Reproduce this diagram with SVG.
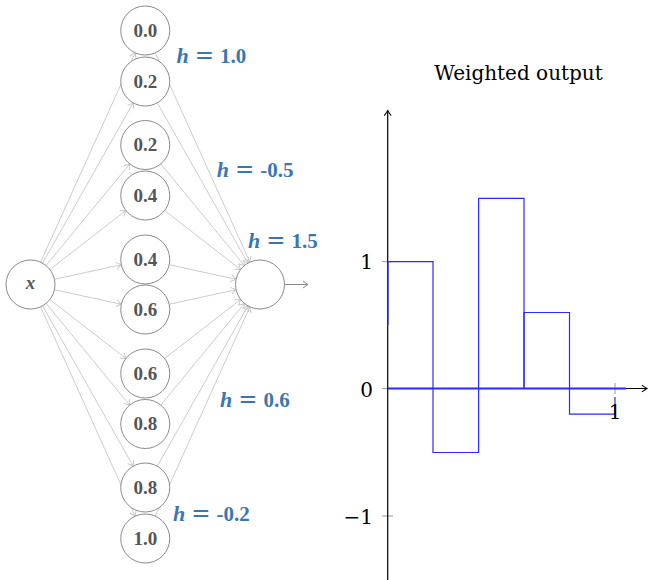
<svg xmlns="http://www.w3.org/2000/svg" width="653" height="580" viewBox="0 0 653 580">
<defs>
<marker id="ah" markerUnits="userSpaceOnUse" markerWidth="12" markerHeight="12" refX="0" refY="0" viewBox="-6 -6 12 12" orient="auto" overflow="visible">
<path d="M-5,-3.5 Q-1.2,-0.6 0,0 Q-1.2,0.6 -5,3.5" fill="none" stroke="#c8c8c8" stroke-width="1"/>
</marker>
<marker id="ahd" markerUnits="userSpaceOnUse" markerWidth="12" markerHeight="12" refX="0" refY="0" viewBox="-6 -6 12 12" orient="auto" overflow="visible">
<path d="M-5,-3.5 Q-1.2,-0.6 0,0 Q-1.2,0.6 -5,3.5" fill="none" stroke="#888" stroke-width="1"/>
</marker>
<marker id="axh" markerUnits="userSpaceOnUse" markerWidth="12" markerHeight="12" refX="0" refY="0" viewBox="-7 -6 14 12" orient="auto" overflow="visible">
<path d="M-6,-4 Q-1.5,-0.8 0,0 Q-1.5,0.8 -6,4" fill="none" stroke="#000" stroke-width="1.2"/>
</marker>
</defs>
<style>
.e{stroke:#cccccc;stroke-width:1;fill:none;marker-end:url(#ah)}
.n circle{fill:#fff;stroke:#8a8a8a;stroke-width:1}
.n text{font-family:"Liberation Serif",serif;font-weight:bold;font-size:19px;fill:#555;text-anchor:middle}
.h{fill:#3a77b2}
.hv{font-family:"Liberation Serif",serif;font-weight:bold;font-style:italic;font-size:22px}
.eq{font-family:"DejaVu Sans",sans-serif;font-size:23px}
.num{font-family:"Liberation Serif",serif;font-weight:bold;font-size:21px}
.tk{font-family:"DejaVu Serif",serif;font-size:20px;fill:#000}
.bar{fill:none;stroke:#2a2aff;stroke-width:1.2}
</style>
<g id="connectors">
<line class="e" x1="40.59" y1="262.17" x2="135.16" y2="52.83"/>
<line class="e" x1="42.56" y1="263.17" x2="133.19" y2="102.83"/>
<line class="e" x1="46.06" y1="265.58" x2="129.69" y2="163.92"/>
<line class="e" x1="49.86" y1="269.48" x2="125.89" y2="210.52"/>
<line class="e" x1="54.44" y1="279.28" x2="121.31" y2="264.72"/>
<line class="e" x1="54.44" y1="289.72" x2="121.31" y2="304.28"/>
<line class="e" x1="49.86" y1="299.52" x2="125.89" y2="358.48"/>
<line class="e" x1="46.06" y1="303.42" x2="129.69" y2="405.08"/>
<line class="e" x1="42.56" y1="305.83" x2="133.19" y2="466.17"/>
<line class="e" x1="40.59" y1="306.83" x2="135.16" y2="516.17"/>
<line class="e" x1="155.34" y1="52.83" x2="249.91" y2="262.17"/>
<line class="e" x1="157.31" y1="102.83" x2="247.94" y2="263.17"/>
<line class="e" x1="160.81" y1="163.92" x2="244.44" y2="265.58"/>
<line class="e" x1="164.61" y1="210.52" x2="240.64" y2="269.48"/>
<line class="e" x1="169.19" y1="264.72" x2="236.06" y2="279.28"/>
<line class="e" x1="169.19" y1="304.28" x2="236.06" y2="289.72"/>
<line class="e" x1="164.61" y1="358.48" x2="240.64" y2="299.52"/>
<line class="e" x1="160.81" y1="405.08" x2="244.44" y2="303.42"/>
<line class="e" x1="157.31" y1="466.17" x2="247.94" y2="305.83"/>
<line class="e" x1="155.34" y1="516.17" x2="249.91" y2="306.83"/>
<line x1="284.5" y1="284.5" x2="308" y2="284.5" stroke="#888" stroke-width="1" marker-end="url(#ahd)"/>
</g>
<g id="node-x" class="n"><circle cx="30.5" cy="284.5" r="24.5"/><text x="30.5" y="289" font-style="italic" font-size="14px">x</text></g>
<g id="node-h1" class="n"><circle cx="145.25" cy="30.5" r="24.5"/><text x="145.25" y="36.8">0.0</text></g>
<g id="node-h2" class="n"><circle cx="145.25" cy="81.5" r="24.5"/><text x="145.25" y="87.8">0.2</text></g>
<g id="node-h3" class="n"><circle cx="145.25" cy="145" r="24.5"/><text x="145.25" y="151.3">0.2</text></g>
<g id="node-h4" class="n"><circle cx="145.25" cy="195.5" r="24.5"/><text x="145.25" y="201.8">0.4</text></g>
<g id="node-h5" class="n"><circle cx="145.25" cy="259.5" r="24.5"/><text x="145.25" y="265.8">0.4</text></g>
<g id="node-h6" class="n"><circle cx="145.25" cy="309.5" r="24.5"/><text x="145.25" y="315.8">0.6</text></g>
<g id="node-h7" class="n"><circle cx="145.25" cy="373.5" r="24.5"/><text x="145.25" y="379.8">0.6</text></g>
<g id="node-h8" class="n"><circle cx="145.25" cy="424" r="24.5"/><text x="145.25" y="430.3">0.8</text></g>
<g id="node-h9" class="n"><circle cx="145.25" cy="487.5" r="24.5"/><text x="145.25" y="493.8">0.8</text></g>
<g id="node-h10" class="n"><circle cx="145.25" cy="538.5" r="24.5"/><text x="145.25" y="544.8">1.0</text></g>
<g id="node-out" class="n"><circle cx="260" cy="284.5" r="24.5"/></g>
<g id="labels">
<text class="h" y="63"><tspan class="hv" x="176.5">h</tspan><tspan class="eq" x="194.8">=</tspan><tspan class="num" x="220">1.0</tspan></text>
<text class="h" y="177"><tspan class="hv" x="216.7">h</tspan><tspan class="eq" x="235">=</tspan><tspan class="num" x="260.2">-0.5</tspan></text>
<text class="h" y="248"><tspan class="hv" x="248">h</tspan><tspan class="eq" x="266.3">=</tspan><tspan class="num" x="291.5">1.5</tspan></text>
<text class="h" y="407"><tspan class="hv" x="220">h</tspan><tspan class="eq" x="238.3">=</tspan><tspan class="num" x="263.5">0.6</tspan></text>
<text class="h" y="521"><tspan class="hv" x="173">h</tspan><tspan class="eq" x="191.3">=</tspan><tspan class="num" x="216.5">-0.2</tspan></text>
</g>
<g id="plot">
<text x="518.5" y="80" font-family="DejaVu Serif, serif" font-size="20px" text-anchor="middle">Weighted output</text>
<g stroke="#999" stroke-width="1">
<line x1="382" y1="261.7" x2="393" y2="261.7"/>
<line x1="382" y1="388.5" x2="393" y2="388.5"/>
<line x1="382" y1="516" x2="393" y2="516"/>
<line x1="615" y1="383" x2="615" y2="394"/>
</g>
<line x1="387.7" y1="580" x2="387.7" y2="110.5" stroke="#000" stroke-width="1.2" marker-end="url(#axh)"/>
<line x1="387.7" y1="388.5" x2="647" y2="388.5" stroke="#000" stroke-width="1.2" marker-end="url(#axh)"/>
<path class="bar" d="M388,325 V261.7 H433 V388.5 H626"/>
<path class="bar" d="M388,388.5 H433 V452.5 H478.6 V388.5 H626"/>
<path class="bar" d="M388,388.5 H478.6 V198.3 H524 V388.5 H626"/>
<path class="bar" d="M388,388.5 H524 V312.5 H569.5 V388.5 H626"/>
<path class="bar" d="M388,388.5 H569.5 V414.2 H615 V397"/>
<line x1="388" y1="388.5" x2="626" y2="388.5" stroke="#2a2aff" stroke-width="2"/>
<text class="tk" x="373" y="269" text-anchor="end">1</text>
<text class="tk" x="373" y="397" text-anchor="end">0</text>
<text class="tk" x="373" y="523.5" text-anchor="end">−1</text>
<text class="tk" x="615" y="419" text-anchor="middle">1</text>
</g>
</svg>
